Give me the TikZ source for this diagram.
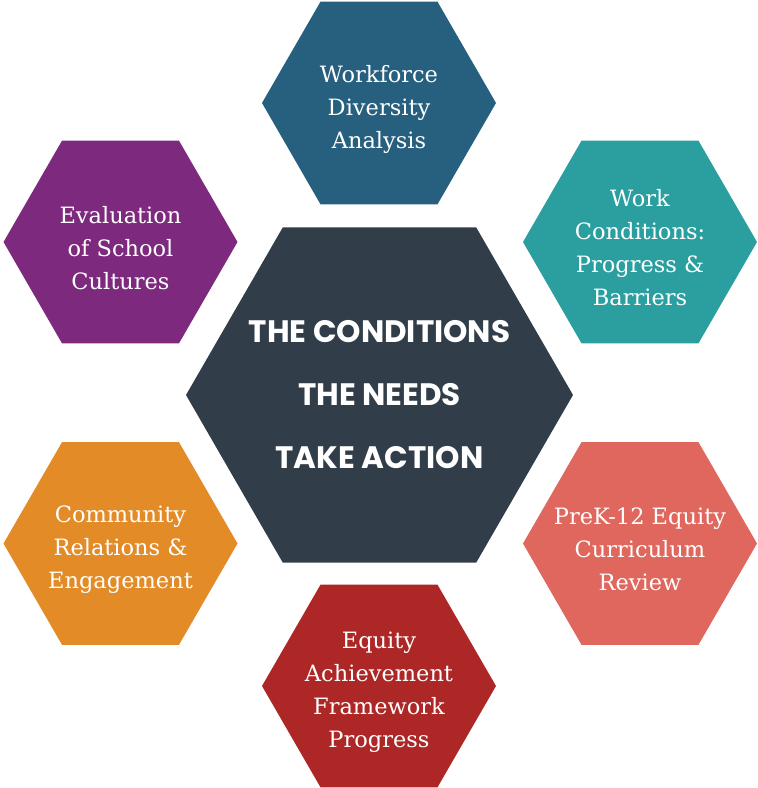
\documentclass[tikz,border=0pt]{standalone}
\usepackage{fontspec}
\setmainfont{DejaVu Serif}
\newfontfamily\titlefont{Poppins}
\usetikzlibrary{shapes.geometric}

\definecolor{hexdark}{HTML}{313E4A}
\definecolor{hexblue}{HTML}{27607F}
\definecolor{hexpurple}{HTML}{7D2A7E}
\definecolor{hexteal}{HTML}{2B9FA0}
\definecolor{hexorange}{HTML}{E38B27}
\definecolor{hexsalmon}{HTML}{E0675E}
\definecolor{hexred}{HTML}{AD2727}

\begin{document}
\begin{tikzpicture}[x=1pt,y=1pt,
    hex/.style={regular polygon, regular polygon sides=6, minimum size=234pt,
      inner sep=0pt},
    bighex/.style={hex, minimum size=387pt},
    hextext/.style={text=white, align=center, yshift=-6pt,
      font=\fontsize{22.5}{33}\selectfont},
    bigtext/.style={text=white, align=center,
      font=\titlefont\bfseries\fontsize{31}{63}\selectfont}]
        % picture is 758 x 788, y measured from the bottom
        \useasboundingbox (0,0) rectangle (758,788);

        \def\colL{120.5}
        \def\colM{379}
        \def\colR{640}

        % middle
        \node[bighex, fill=hexdark] (core) at (379.5,393) {};
        \node[bigtext] (coretext) at (core) {THE CONDITIONS\\THE NEEDS\\TAKE ACTION};

        % ring of six
        \node[hex, fill=hexblue] (workforce) at (\colM,685) {};
        \node[hex, fill=hexpurple] (culture) at (\colL,546) {};
        \node[hex, fill=hexteal] (conditions) at (\colR,546) {};
        \node[hex, fill=hexorange] (community) at (\colL,244.5) {};
        \node[hex, fill=hexsalmon] (curriculum) at (\colR,244.5) {};
        \node[hex, fill=hexred] (framework) at (\colM,102) {};

        % labels on top of the hexagons
        \node[hextext] (workforcetext) at (workforce) {Workforce\\Diversity\\Analysis};
        \node[hextext] (culturetext) at (culture) {Evaluation\\of School\\Cultures};
        \node[hextext] (conditionstext) at (conditions) {Work\\Conditions:\\Progress \&\\Barriers};
        \node[hextext] (communitytext) at (community) {Community\\Relations \&\\Engagement};
        \node[hextext] (curriculumtext) at (curriculum) {PreK-12 Equity\\Curriculum\\Review};
        \node[hextext] (frameworktext) at (framework) {Equity\\Achievement\\Framework\\Progress};
    \end{tikzpicture}
\end{document}
